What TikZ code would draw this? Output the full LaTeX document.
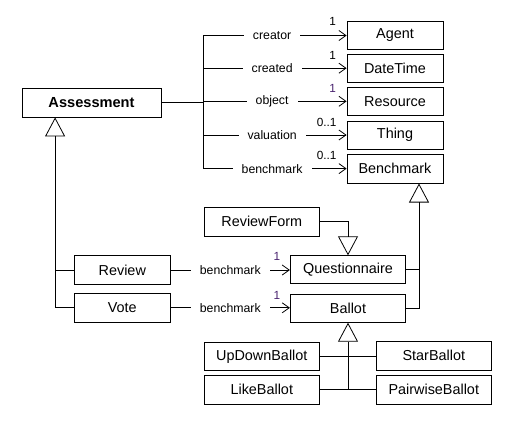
\documentclass[tikz,border=0pt]{standalone}
\usepackage{fontspec}
\setmainfont{Liberation Sans}
\usetikzlibrary{arrows.meta,calc}
\definecolor{mpurple}{HTML}{4A2470}
\tikzset{
  cls/.style={draw, line width=0.8pt, fill=white, inner sep=0pt, font=\fontsize{14.4}{16}\selectfont},
  conn/.style={line width=0.8pt},
  assoc/.style={conn, -{Straight Barb[length=7pt,width=10pt,line width=0.8pt]}},
  gen/.style={conn, -{Triangle[open,length=19pt,width=20pt,line width=0.8pt]}},
  role/.style={fill=white, inner xsep=9pt, inner ysep=1pt, font=\fontsize{12.3}{14}\selectfont, pos=0.48},
  mult/.style={inner sep=0pt, font=\fontsize{11.8}{13}\selectfont}
}
\begin{document}
\begin{tikzpicture}[x=1pt,y=-1pt]
\useasboundingbox (0,0) rectangle (511,424);
\fill[white] (0,0) rectangle (511,424);
% classes
\node[cls, minimum width=139pt, minimum height=29pt, font=\fontsize{14.6}{16}\selectfont\bfseries] (Assessment) at (91.5,102.5) {Assessment};
\node[cls, minimum width=96pt, minimum height=27.5pt] (Agent) at (395,35.5) {Agent};
\node[cls, minimum width=96pt, minimum height=27.5pt] (DateTime) at (395,68.2) {DateTime};
\node[cls, minimum width=96pt, minimum height=27.5pt] (Resource) at (395,101.3) {Resource};
\node[cls, minimum width=96pt, minimum height=28pt] (Thing) at (395,135) {Thing};
\node[cls, minimum width=96pt, minimum height=29pt] (Benchmark) at (395,168.6) {Benchmark};
\node[cls, minimum width=115pt, minimum height=28.7pt] (ReviewForm) at (261.8,221.7) {ReviewForm};
\node[cls, minimum width=115.4pt, minimum height=27.6pt] (Questionnaire) at (348,269.5) {Questionnaire};
\node[cls, minimum width=115.4pt, minimum height=28pt] (Ballot) at (348,308.3) {Ballot};
\node[cls, minimum width=96pt, minimum height=28.6pt] (Review) at (122.3,270) {Review};
\node[cls, minimum width=96pt, minimum height=29pt] (Vote) at (122.3,307.8) {Vote};
\node[cls, minimum width=115pt, minimum height=27.3pt] (UpDownBallot) at (261.8,356.3) {UpDownBallot};
\node[cls, minimum width=115pt, minimum height=28.3pt] (StarBallot) at (433.8,355.8) {StarBallot};
\node[cls, minimum width=115pt, minimum height=28.3pt] (LikeBallot) at (261.8,389.8) {LikeBallot};
\node[cls, minimum width=115pt, minimum height=28.3pt] (PairwiseBallot) at (433.8,389.8) {PairwiseBallot};
% association bus
\coordinate (bus) at ($(Assessment.east)+(42,0)$);
\draw[conn] (Assessment.east) -- (bus);
\draw[conn] (bus |- Agent.west) -- (bus |- Benchmark.west);
\draw[assoc] (bus |- Agent.west) -- node[role] (rcreator) {creator} (Agent.west);
\draw[assoc] (bus |- DateTime.west) -- node[role] (rcreated) {created} (DateTime.west);
\draw[assoc] (bus |- Resource.west) -- node[role] (robject) {object} (Resource.west);
\draw[assoc] (bus |- Thing.west) -- node[role] (rvaluation) {valuation} (Thing.west);
\draw[assoc] (bus |- Benchmark.west) -- node[role] (rbenchmark) {benchmark} (Benchmark.west);
\node[mult] (m1) at ($(Agent.west)+(-14,-14)$) {1};
\node[mult] (m2) at ($(DateTime.west)+(-14,-13)$) {1};
\node[mult, text=mpurple] (m3) at ($(Resource.west)+(-14,-13)$) {1};
\node[mult] (m4) at ($(Thing.west)+(-20,-13)$) {0..1};
\node[mult] (m5) at ($(Benchmark.west)+(-20,-13)$) {0..1};
% Review / Vote associations
\draw[assoc] (Review.east) -- node[role, pos=0.5] (rrev) {benchmark} (Review.east -| Questionnaire.west);
\draw[assoc] (Vote.east) -- node[role, pos=0.5] (rvote) {benchmark} (Vote.east -| Ballot.west);
\node[mult, text=mpurple] (m6) at ($(Questionnaire.west)+(-13,-13)$) {1};
\node[mult, text=mpurple] (m7) at ($(Ballot.west)+(-13,-13)$) {1};
% generalization to Assessment
\coordinate (ajoin) at ($(Assessment.south west)+(33.5,0)$);
\draw[gen] (Vote.west) -| (ajoin);
\draw[conn] (Review.west) -- (Review.west -| ajoin);
% generalization to Benchmark
\coordinate (bjoin) at ($(Benchmark.south)+(24,0)$);
\draw[gen] (Ballot.east) -| (bjoin);
\draw[conn] (Questionnaire.east) -- (Questionnaire.east -| bjoin);
% ReviewForm to Questionnaire
\draw[gen] (ReviewForm.east) -| (Questionnaire.north);
% Ballot subclasses
\draw[conn] (UpDownBallot.east) -- (UpDownBallot.east -| StarBallot.west);
\draw[conn] (LikeBallot.east) -- (LikeBallot.east -| PairwiseBallot.west);
\draw[gen] (LikeBallot.east -| Ballot.south) -- (Ballot.south);
\end{tikzpicture}
\end{document}
